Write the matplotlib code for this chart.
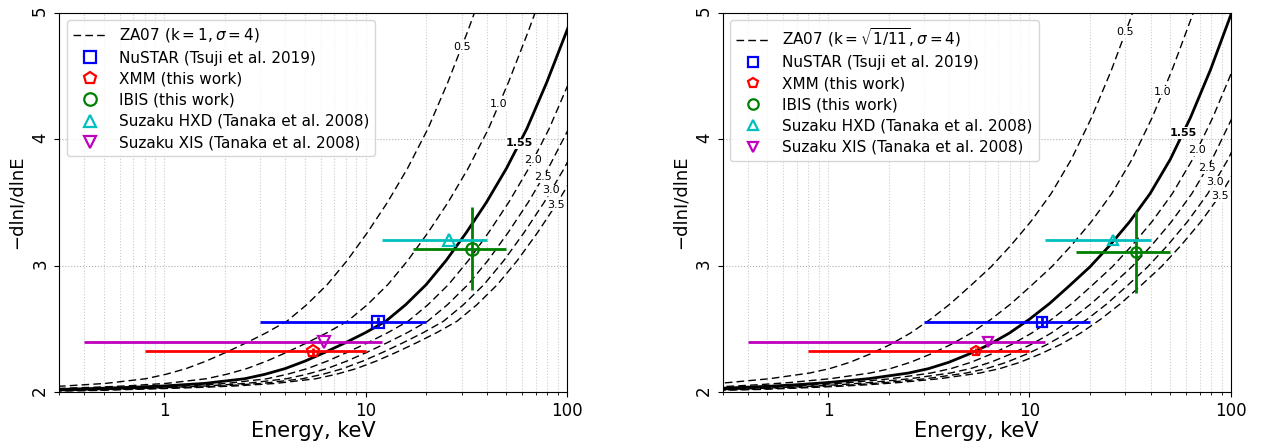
import numpy as np
import matplotlib
matplotlib.use("Agg")
import matplotlib.pyplot as plt
from matplotlib.lines import Line2D
from matplotlib.ticker import FuncFormatter, LogLocator, NullFormatter

# solid ZA07 curve (E0 = 1.55 keV): photon index vs energy (keV)
CURVE_E = [0.126, 0.2, 0.3, 0.5, 0.708, 1.0, 1.585, 2.51, 3.16, 3.98, 5.01, 6.31,
           7.94, 10.0, 12.6, 15.8, 20.0, 25.1, 31.6, 39.8, 50.1, 63.1, 79.4, 100.0, 126.0]
IDX_K1 = [2.008, 2.012, 2.020, 2.030, 2.038, 2.048, 2.068, 2.105, 2.140, 2.185, 2.245,
          2.315, 2.390, 2.470, 2.560, 2.690, 2.850, 3.040, 3.260, 3.500, 3.770, 4.080,
          4.450, 4.860, 5.300]
IDX_K11 = [2.014, 2.020, 2.030, 2.045, 2.058, 2.075, 2.105, 2.150, 2.185, 2.235, 2.300,
           2.375, 2.465, 2.575, 2.700, 2.840, 2.990, 3.160, 3.350, 3.570, 3.840, 4.170,
           4.550, 4.980, 5.450]
E0_REF = 1.55
E0_LEVELS = [0.5, 1.0, 1.55, 2.0, 2.5, 3.0, 3.5]
E0_LABELS = ["0.5", "1.0", "1.55", "2.0", "2.5", "3.0", "3.5"]
LABEL_E = [30.0, 46.0, 58.0, 68.0, 76.0, 83.5, 88.0]

# measurements: energy band centre, band edges, index, index error
NUSTAR = dict(e=11.5, lo=3.0, hi=20.0, idx=2.555, err=0.04)
XMM = dict(e=5.45, lo=0.8, hi=10.0, idx=2.322, err=0.03)
HXD = dict(e=26.0, lo=12.0, hi=40.0, idx=3.203, err=0.0)
XIS = dict(e=6.2, lo=0.4, hi=12.0, idx=2.393, err=0.0)
IBIS_E = dict(e=33.8, lo=17.1, hi=50.0)
IBIS_IDX_K1 = [3.135, 0.33]
IBIS_IDX_K11 = [3.105, 0.325]

SERIES = [
    ("NuSTAR (Tsuji et al. 2019)", "s", "b"),
    ("XMM (this work)", "p", "r"),
    ("IBIS (this work)", "o", "g"),
    ("Suzaku HXD (Tanaka et al. 2008)", "^", "c"),
    ("Suzaku XIS (Tanaka et al. 2008)", "v", "m"),
]


def draw_point(ax, p, marker, color, ms):
    ax.errorbar([p["e"]], [p["idx"]],
                xerr=[[p["e"] - p["lo"]], [p["hi"] - p["e"]]],
                yerr=[[p["err"]], [p["err"]]],
                fmt="none", ecolor=color, elinewidth=2, capsize=0, zorder=4)
    ax.plot([p["e"]], [p["idx"]], ls="none", marker=marker, ms=ms, mfc="none",
            mec=color, mew=1.6, zorder=5)


def draw_panel(ax, curve_idx, ibis, za_label, ms):
    log_e = np.log10(CURVE_E)
    for e0, lab, le in zip(E0_LEVELS, E0_LABELS, LABEL_E):
        bold = e0 == E0_REF
        ax.plot(np.array(CURVE_E) * e0 / E0_REF, curve_idx, color="k",
                lw=2.0 if bold else 1.0, ls="-" if bold else (0, (5.5, 3)), zorder=2)
        ly = np.interp(np.log10(le * E0_REF / e0), log_e, curve_idx)
        ax.text(le, ly, lab, fontsize=8, ha="center", va="center",
                fontweight="bold" if bold else "normal", zorder=3,
                bbox=dict(facecolor="white", edgecolor="none", pad=0.6))

    points = [NUSTAR, XMM, dict(IBIS_E, idx=ibis[0], err=ibis[1]), HXD, XIS]
    for p, (_, marker, color) in zip(points, SERIES):
        draw_point(ax, p, marker, color, ms)

    ax.set_xscale("log")
    ax.set_xlim(0.3, 100)
    ax.set_ylim(2, 5)
    ax.set_yticks([2, 3, 4, 5])
    ax.xaxis.set_major_locator(LogLocator(base=10))
    ax.xaxis.set_minor_locator(LogLocator(base=10, subs=np.arange(2, 10)))
    ax.xaxis.set_minor_formatter(NullFormatter())
    ax.xaxis.set_major_formatter(FuncFormatter(lambda v, _: f"{v:g}"))
    ax.tick_params(axis="both", labelsize=12)
    ax.tick_params(axis="y", labelrotation=90)
    ax.grid(True, which="both", axis="x", ls=":", color="0.8", lw=0.8)
    ax.grid(True, which="major", axis="y", ls=":", color="0.7", lw=0.8)
    ax.set_xlabel("Energy, keV", fontsize=15, labelpad=1)
    ax.set_ylabel("\u2212dlnI/dlnE", fontsize=13)

    handles = [Line2D([], [], color="k", ls=(0, (5.5, 3)), lw=1.0)]
    labels = [za_label]
    for name, marker, color in SERIES:
        handles.append(Line2D([], [], ls="none", marker=marker, ms=ms, mfc="none",
                              mec=color, mew=1.6))
        labels.append(name)
    ax.legend(handles, labels, loc="upper left", fontsize=11, handlelength=2.2,
              borderaxespad=0.5, labelspacing=0.4)


fig = plt.figure(figsize=(12.65, 4.43), dpi=100)
ax1 = fig.add_axes([0.0466, 0.1151, 0.4016, 0.8562])
ax2 = fig.add_axes([0.5713, 0.1151, 0.4016, 0.8562])

draw_panel(ax1, IDX_K1, IBIS_IDX_K1, r"ZA07 ($\mathrm{k}=1, \sigma=4$)", 9)
draw_panel(ax2, IDX_K11, IBIS_IDX_K11, r"ZA07 ($\mathrm{k}=\sqrt{1/11}, \sigma=4$)", 7.5)

fig.savefig("out.png", dpi=100)
